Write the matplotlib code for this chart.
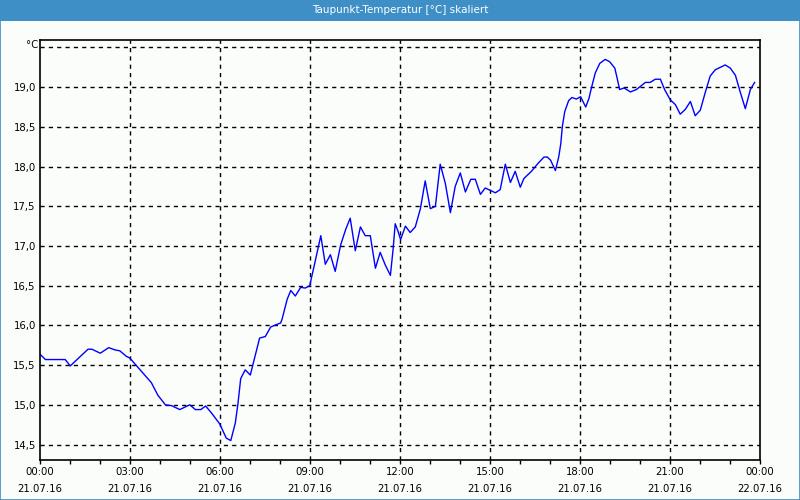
import matplotlib
matplotlib.use("Agg")
import matplotlib.pyplot as plt
from matplotlib.ticker import FixedLocator, MultipleLocator, FuncFormatter
from matplotlib.patches import Rectangle

# time in hours since 21.07.16 00:00
hours = [0.02, 0.18, 0.84, 1.01, 1.60, 1.73, 2.01, 2.29, 2.51, 2.66, 2.88, 2.99, 3.27, 3.71, 3.93,
         4.18, 4.38, 4.66, 4.99, 5.18, 5.36, 5.52, 5.71, 5.99, 6.21, 6.36, 6.51, 6.60, 6.69, 6.84,
         7.01, 7.16, 7.32, 7.51, 7.69, 7.88, 8.02, 8.07, 8.24, 8.36, 8.51, 8.69, 8.84, 8.99, 9.02,
         9.18, 9.36, 9.51, 9.68, 9.84, 10.02, 10.19, 10.34, 10.51, 10.68, 10.84, 11.01, 11.18, 11.34,
         11.51, 11.68, 11.77, 11.84, 11.93, 12.02, 12.18, 12.34, 12.51, 12.68, 12.84, 13.01, 13.18,
         13.34, 13.51, 13.68, 13.84, 14.01, 14.18, 14.36, 14.51, 14.68, 14.84, 15.01, 15.18, 15.34,
         15.51, 15.68, 15.84, 16.01, 16.13, 16.38, 16.60, 16.80, 16.91, 17.02, 17.18, 17.29, 17.36,
         17.41, 17.49, 17.62, 17.73, 17.88, 18.02, 18.19, 18.30, 18.38, 18.51, 18.66, 18.84, 18.99,
         19.16, 19.24, 19.32, 19.47, 19.68, 19.88, 20.18, 20.34, 20.51, 20.68, 20.82, 21.01, 21.18,
         21.34, 21.51, 21.68, 21.84, 22.01, 22.18, 22.34, 22.51, 22.68, 22.84, 23.01, 23.18, 23.34,
         23.51, 23.68, 23.82]
dewpoint = [15.63, 15.57, 15.57, 15.49, 15.70, 15.70, 15.65, 15.72, 15.69, 15.68, 15.61, 15.59, 15.47, 15.28, 15.12,
            15.00, 14.99, 14.94, 15.00, 14.94, 14.94, 14.985, 14.90, 14.76, 14.58, 14.55, 14.77, 15.02, 15.33, 15.44,
            15.375, 15.60, 15.84, 15.86, 15.98, 16.01, 16.03, 16.08, 16.33, 16.44, 16.37, 16.48, 16.47, 16.50, 16.55,
            16.82, 17.13, 16.77, 16.89, 16.68, 17.01, 17.21, 17.35, 16.94, 17.24, 17.13, 17.13, 16.72, 16.92,
            16.76, 16.63, 16.96, 17.28, 17.19, 17.08, 17.25, 17.17, 17.24, 17.47, 17.82, 17.47, 17.50,
            18.03, 17.79, 17.42, 17.75, 17.92, 17.68, 17.84, 17.84, 17.65, 17.73, 17.70, 17.67, 17.71,
            18.03, 17.80, 17.94, 17.74, 17.85, 17.94, 18.04, 18.12, 18.12, 18.08, 17.95, 18.12, 18.29,
            18.50, 18.69, 18.83, 18.87, 18.85, 18.88, 18.75, 18.86, 18.99, 19.18, 19.30, 19.35, 19.32,
            19.24, 19.11, 18.97, 18.99, 18.94, 18.97, 19.06, 19.06, 19.10, 19.10, 18.97, 18.84, 18.78,
            18.66, 18.72, 18.82, 18.64, 18.71, 18.94, 19.14, 19.22, 19.25, 19.28, 19.24, 19.15, 18.94,
            18.73, 18.97, 19.06]

tick_hours = [0, 3, 6, 9, 12, 15, 18, 21, 24]
tick_labels = ["00:00\n21.07.16", "03:00\n21.07.16", "06:00\n21.07.16", "09:00\n21.07.16",
               "12:00\n21.07.16", "15:00\n21.07.16", "18:00\n21.07.16", "21:00\n21.07.16",
               "00:00\n22.07.16"]
y_ticks = [14.5, 15.0, 15.5, 16.0, 16.5, 17.0, 17.5, 18.0, 18.5, 19.0]
title = "Taupunkt-Temperatur [°C] skaliert"

BG = "#fbfdfb"
BAR = "#3d8fc6"

plt.rcParams["font.family"] = ["DejaVu Sans"]
fig = plt.figure(figsize=(8, 5), dpi=100, facecolor=BG)
ax = fig.add_axes([0.05, 0.08, 0.90, 0.84])
ax.set_facecolor(BG)

ax.plot(hours, dewpoint, color="#0000ff", lw=1.0)

ax.set_xlim(0, 24)
ax.set_ylim(14.305, 19.594)

ax.xaxis.set_major_locator(FixedLocator(tick_hours))
ax.set_xticklabels(tick_labels, fontsize=7.3, linespacing=1.85)
ax.xaxis.set_minor_locator(MultipleLocator(1))
ax.tick_params(axis="x", which="both", direction="out", length=3, width=1, pad=2, colors="black")

ax.yaxis.set_major_locator(FixedLocator(y_ticks))
ax.yaxis.set_major_formatter(FuncFormatter(lambda v, p: f"{v:.1f}".replace(".", ",")))
ax.tick_params(axis="y", which="both", length=0, pad=3, labelsize=7.3)

grid_kw = dict(color="black", lw=1.0, linestyle=(0, (3, 3)), zorder=0.5)
for h in tick_hours[1:-1]:
    ax.axvline(h, **grid_kw)
for v in y_ticks + [19.5]:
    ax.axhline(v, **grid_kw)

for s in ax.spines.values():
    s.set_color("black")
    s.set_linewidth(1.2)

ax.text(-0.003, 1.0, "°C", transform=ax.transAxes, ha="right", va="top", fontsize=7.3)

# title bar
fig.patches.append(Rectangle((0, 1 - 21 / 500), 1, 21 / 500, transform=fig.transFigure,
                             facecolor=BAR, edgecolor="none", zorder=0))
fig.text(0.5, 1 - 10 / 500, title, color="white", ha="center", va="center", fontsize=7.5)
fig.patches.append(Rectangle((0.0006, 0.001), 0.9988, 0.998, transform=fig.transFigure,
                             facecolor="none", edgecolor=BAR, lw=1.2, zorder=5))

fig.savefig("out.png", dpi=100, facecolor=BG)
